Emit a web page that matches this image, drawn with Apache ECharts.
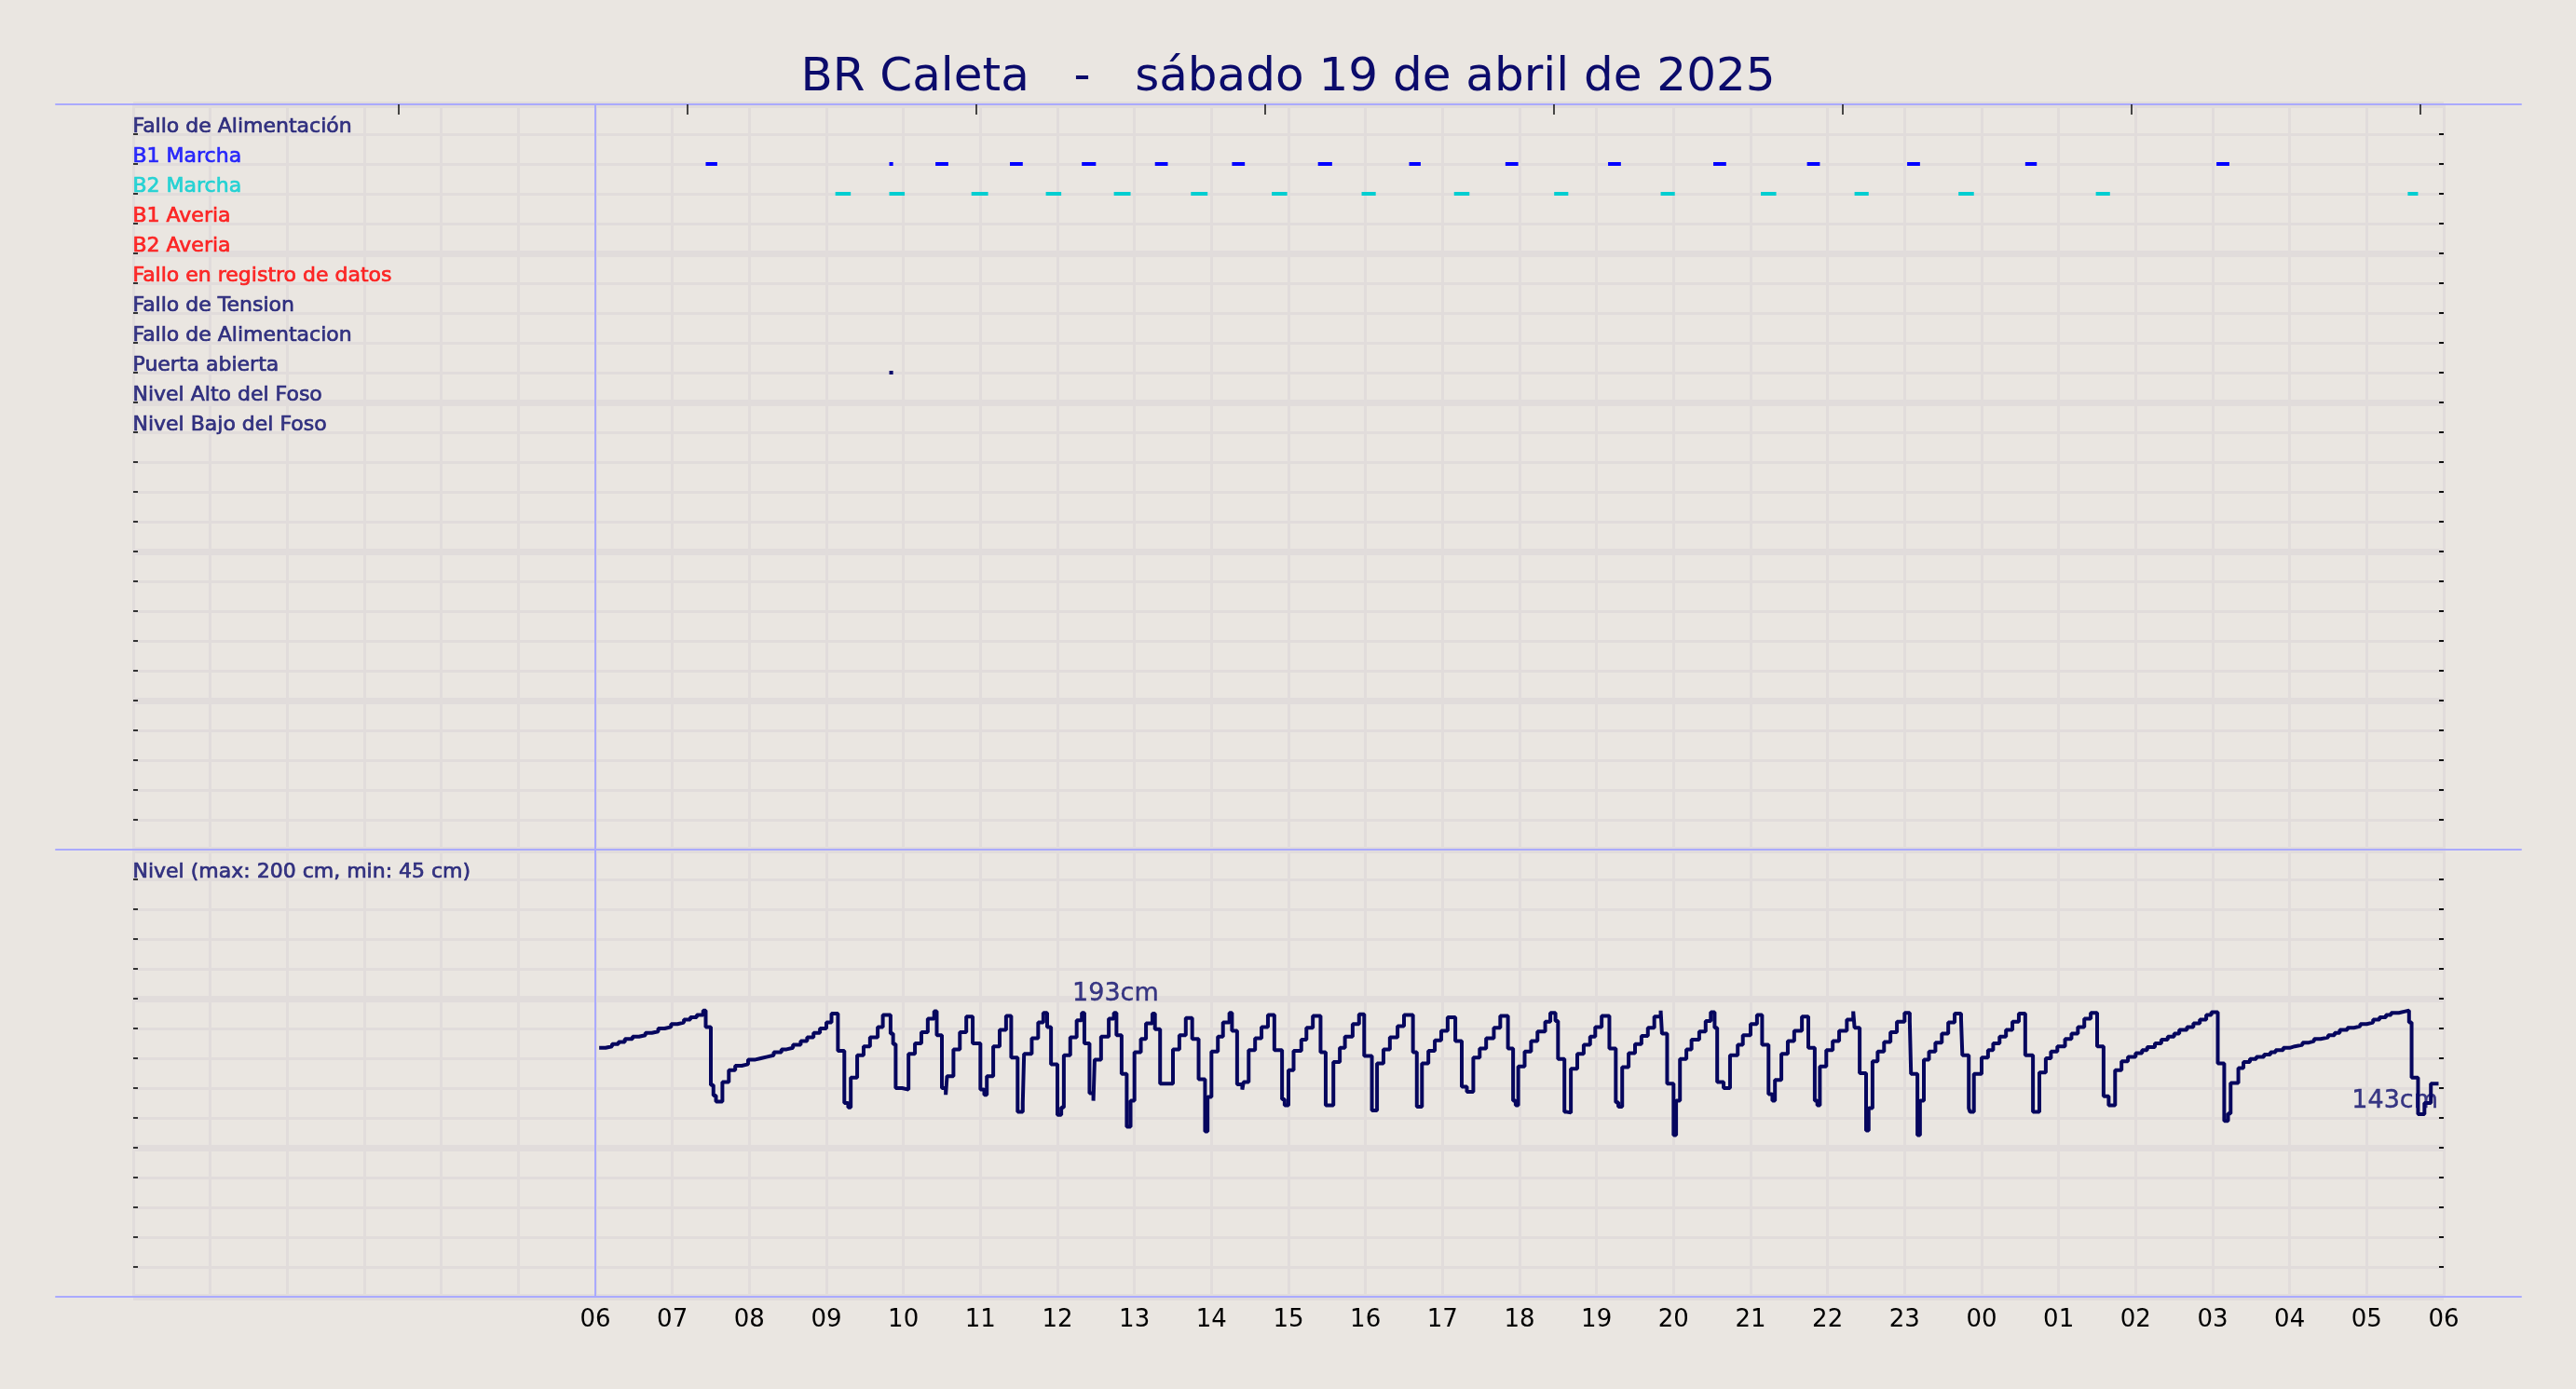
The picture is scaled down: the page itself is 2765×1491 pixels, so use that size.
<!DOCTYPE html>
<html>
<head>
<meta charset="utf-8">
<script src="https://cdn.jsdelivr.net/npm/echarts@6/dist/echarts.min.js"></script>
<style>
html,body{margin:0;padding:0;background:#eae6e1;}
#c{width:2765px;height:1491px;}
</style>
</head>
<body>
<div id="c"></div>
<script>
const titulo = 'BR Caleta   -   sábado 19 de abril de 2025';

const filas = ['Fallo de Alimentación','B1 Marcha','B2 Marcha','B1 Averia','B2 Averia',
  'Fallo en registro de datos','Fallo de Tension','Fallo de Alimentacion','Puerta abierta',
  'Nivel Alto del Foso','Nivel Bajo del Foso'];
const filaColores = ['#0b0b6b','#0000ff','#00ced1','#ff0000','#ff0000','#ff0000',
  '#0b0b6b','#0b0b6b','#0b0b6b','#0b0b6b','#0b0b6b'];

const b1Inicio = ['07:26','09:49','10:25','11:23','12:19','13:16','14:16','15:23','16:34','17:49','19:09','20:31','21:44','23:02','00:34','03:03'];
const b1Fin    = ['07:35','09:52','10:35','11:33','12:30','13:26','14:26','15:34','16:43','17:59','19:19','20:41','21:54','23:12','00:43','03:13'];
const b2Inicio = ['09:07','09:49','10:53','11:51','12:44','13:44','14:47','15:57','17:09','18:27','19:50','21:08','22:21','23:42','01:29','05:32'];
const b2Fin    = ['09:19','10:01','11:06','12:03','12:57','13:57','14:59','16:08','17:21','18:38','20:01','21:20','22:32','23:54','01:40','05:40'];
const puertaInicio = ['09:49'];
const puertaFin    = ['09:52'];

const nivelHora = [
'06:03','06:08','06:13','06:18','06:23','06:29','06:34','06:39','06:44','06:49','06:54','06:59','07:04','07:09','07:14','07:19','07:24',
'07:26','07:30','07:32','07:34','07:39','07:44','07:49','07:54','07:59','08:04','08:09','08:14','08:19','08:25','08:29','08:34','08:40','08:45','08:50','08:55','09:00','09:04',
'09:09','09:14','09:17','09:19','09:24','09:29','09:34','09:40','09:44',
'09:50','09:52','09:54','09:59','10:04','10:09','10:14','10:19','10:24',
'10:26','10:30','10:33','10:34','10:39','10:44','10:49',
'10:54','11:00','11:03','11:05','11:10','11:15','11:20',
'11:24','11:29','11:33','11:34','11:40','11:45','11:49',
'11:52','11:55','12:00','12:03','12:05','12:10','12:15','12:19',
'12:21','12:25','12:28','12:29','12:34','12:40','12:44',
'12:46','12:50','12:54','12:57','13:00','13:05','13:09','13:14',
'13:16','13:20','13:30','13:35','13:40',
'13:45','13:50','13:55','13:57','14:00','14:05','14:09','14:14',
'14:16','14:20','14:24','14:25','14:29','14:34','14:39','14:44',
'14:49','14:55','14:57','15:00','15:04','15:10','15:14','15:19',
'15:25','15:29','15:35','15:40','15:44','15:50','15:55',
'15:59','16:05','16:09','16:14','16:19','16:25','16:30',
'16:37','16:40','16:44','16:49','16:54','16:59','17:04',
'17:10','17:15','17:19','17:24','17:29','17:34','17:40','17:45',
'17:51','17:55','17:57','17:59','18:04','18:09','18:14','18:20','18:24',
'18:28','18:30','18:35','18:37','18:40','18:45','18:50','18:55','18:59','19:04',
'19:10','19:15','19:17','19:20','19:25','19:30','19:35','19:40','19:45','19:50',
'19:51','19:55','20:00','20:02','20:05','20:10','20:14','20:20','20:25','20:29',
'20:32','20:34','20:39','20:44','20:50','20:54','21:00','21:05',
'21:09','21:14','21:17','21:19','21:24','21:29','21:34','21:40',
'21:45','21:50','21:52','21:54','21:59','22:04','22:09','22:15','22:20',
'22:21','22:25','22:30','22:32','22:35','22:39','22:44','22:49','22:54','23:00',
'23:04','23:05','23:10','23:12','23:15','23:19','23:24','23:29','23:34','23:39',
'23:44','23:45','23:50','23:51','23:54','00:00','00:05','00:09','00:14','00:19','00:24','00:29',
'00:34','00:40','00:45','00:50','00:54','00:59','01:05','01:10','01:15','01:20','01:25',
'01:30','01:35','01:39','01:44','01:49','01:54','02:00','02:05','02:09','02:15','02:20','02:25','02:30','02:34','02:40','02:45','02:50','02:55','02:59',
'03:04','03:09','03:12','03:14','03:20','03:24','03:29','03:34','03:40','03:45','03:49','03:55','04:00','04:04','04:10','04:15','04:19','04:24','04:30','04:35','04:39','04:45','04:50','04:55','05:00','05:05','05:10','05:15','05:19','05:25','05:30',
'05:33','05:35','05:40','05:45','05:50','05:56'];

const nivelCm = [
167,168,169.5,171,173,174.5,175.5,177,178,180,181,183,184,186,187.5,189,192,
181,142,135,131,144,152,155,156,159,160,161,162,164,166,167,169,171.5,174,177,180,184,190,
165,130,127,147,162,168,174,181,189,
176.5,169.5,140,139,163,170,177.5,186.5,191.5,
175.5,140,135.5,148,166,177.5,188,
170,139,135.5,148,168,179,188.5,
160.5,124,130,163,173.5,184,190.5,
181,156,122,127,162,174,185.5,190.5,
170,136.5,131.5,159,174.5,186.5,190.5,
175.5,149.5,114,131.5,164,173,183.5,190,
179.5,143,166,175.5,187,
173,146,111,134,164.5,174.5,184,190.5,
178.5,142.5,139,144,165.5,173.5,181,189,
165.5,132.5,128.5,152,165,172.5,180.5,188.5,
164,128.5,157.5,167,174.5,183,189.5,
161.5,125,156.5,166,174,181.5,189,
164,127.5,156.5,165,172,178.5,187.5,
171.5,141,137.5,160.5,166.5,173.5,180.5,188.5,
166.5,131.5,128.5,154.5,164.5,171.5,178,184.5,190.5,
185,159.5,124,123.5,153,163,169,174.5,181,188.5,
166.5,130.5,127.5,154,163.5,169.5,175,180.5,188,192,
176.5,143,108.5,131.5,159.5,166,172.5,178,185,191,
180.5,144,140,162,169,175.5,183,189,
169,136,131.5,145.5,163,171.5,178.5,188,
167,131.5,128.5,154.5,165.5,171.5,178.5,186,191.5,
180.5,150,111.5,126.5,158,164.5,171,177.5,184.5,190.5,
185,149.5,108.5,131.5,159,164.5,170.5,176.5,184,190,
186.5,162,126.5,124,149.5,160.5,165.5,170,174.5,179,184.5,190,
162,124,150.5,160,164.5,168,173,176.5,181,186.5,190.5,
168,134.5,128.5,152,158,161,163.5,165.5,167.5,170,172.5,174.5,176.5,179,181,183.5,186,189,191,
156.5,118,123,143.5,153.5,157.5,159.5,161,162.5,164,165.5,167,168,169,170.5,171.5,173,174,175.5,177,179,180.5,181.5,183,184,186,187.5,189,190.5,191.5,192,
184,147,122.5,130,143,143];

const etiquetasHora = ['06','07','08','09','10','11','12','13','14','15','16','17','18','19','20','21','22','23','00','01','02','03','04','05','06'];
// top-spine ticks: first tick (hours from 00:00), spacing (hours) and count
const tickSupInicio = 3.44;
const tickSupPaso = 3.75;
const tickSupCuenta = 8;

const textoNivel = 'Nivel (max: 200 cm, min: 45 cm)';
const notaTexto = ['193cm', '143cm'];
const notaHora  = ['12:12', '05:56'];
const notaCm    = [203, 131];

// ---------------------------------------------------------------
function h(t){ const p=t.split(':').map(Number); let v=p[0]+p[1]/60; if(p[0]<6) v+=24; return v; }

const NAVY='#0b0b6b', GRIDC='#e1dcdb', SPINE='#aaaaff', FONT='DejaVu Sans';
const X0 = 143, HW = 2480/30;   // data area left edge and pixels per hour

function barra(params, api){
  const a = api.coord([api.value(0), api.value(2)]);
  const b = api.coord([api.value(1), api.value(2)]);
  return {type:'rect', shape:{x:a[0], y:a[1]-2, width:Math.max(b[0]-a[0],3), height:4},
          style:{fill: api.visual('color')}};
}
function eventos(ini, fin, fila){ return ini.map((s,i)=>[h(s), h(fin[i]), fila]); }

const innerX = (gi, labels) => ({
  gridIndex: gi, type:'value', min:0, max:30, interval:1,
  axisLine:{show:false}, axisTick:{show:false},
  axisLabel: labels ? {show:true, customValues: etiquetasHora.map((_,i)=>i+6),
     formatter: v => etiquetasHora[Math.round(v)-6], fontSize:26, color:'#000', fontFamily:FONT, margin:12}
   : {show:false},
  splitLine:{show:true, lineStyle:{color:GRIDC, width:3}}
});
const innerY = (gi, max, interval, pos, inverse, grid) => ({
  gridIndex: gi, type:'value', min:0, max:max, interval:interval, inverse:inverse, position:pos,
  axisLine:{show:false}, axisLabel:{show:false},
  axisTick:{show:true, inside:true, length:5, lineStyle:{color: pos==='left'?'#333':'#111', width:2}},
  minorTick:{show:true, splitNumber:5, length:5, lineStyle:{color: pos==='left'?'#333':'#111', width:2}},
  splitLine:{show:grid, lineStyle:{color:GRIDC, width:7}},
  minorSplitLine:{show:grid, lineStyle:{color:GRIDC, width:3}}
});
const spineX = (gi, pos) => ({
  gridIndex: gi, type:'value', min:-1, max:31, position:pos, z:10,
  axisLine:{show:true, onZero:false, lineStyle:{color:SPINE, width:2}},
  axisTick:{show:false}, axisLabel:{show:false}, splitLine:{show:false}
});

const labelSeries = (xi, yi, data, extra) => Object.assign({
  type:'scatter', xAxisIndex:xi, yAxisIndex:yi, symbolSize:1, silent:true, z:20,
  itemStyle:{color:'rgba(0,0,0,0)'}, data:data
}, extra);
const txt = (o) => Object.assign({show:true, position:[0,0], fontFamily:FONT,
  textBorderWidth:0.7, textShadowBlur:0, formatter:p=>p.name}, o);

const option = {
  backgroundColor:'#eae6e1',
  animation:false,
  title:{text:titulo, left:'center', top:54,
    textStyle:{fontSize:50, fontWeight:'normal', color:NAVY, fontFamily:FONT}},
  grid:[
    {left:X0, top:112, width:2480, height:800},
    {left:X0, top:912, width:2480, height:480},
    {left:60, top:112, width:2646, height:800},
    {left:60, top:912, width:2646, height:480},
    {left:X0 + tickSupInicio*HW, top:112, width:(tickSupCuenta-1)*tickSupPaso*HW, height:800}
  ],
  xAxis:[
    innerX(0,false),
    innerX(1,true),
    spineX(2,'top'),
    spineX(2,'bottom'),
    spineX(3,'bottom'),
    {gridIndex:4, type:'value', min:0, max:(tickSupCuenta-1)*tickSupPaso, interval:tickSupPaso, position:'top', z:11,
      axisLine:{show:false, onZero:false}, axisLabel:{show:false}, splitLine:{show:false},
      axisTick:{show:true, inside:true, length:11, lineStyle:{color:'#111', width:1.5}}}
  ],
  yAxis:[
    innerY(0,25,5,'left',true,true),
    innerY(0,25,5,'right',true,false),
    innerY(1,300,100,'left',false,true),
    innerY(1,300,100,'right',false,false),
    {gridIndex:2, type:'value', min:0, max:1, show:false},
    {gridIndex:3, type:'value', min:0, max:1, show:false},
    {gridIndex:4, type:'value', min:0, max:1, show:false}
  ],
  series:[
    labelSeries(0, 0,
      filas.map((f,i)=>({name:f, value:[0,i+1],
        label:{color:filaColores[i], textBorderColor:filaColores[i]}})),
      {label: txt({align:'left', verticalAlign:'bottom', offset:[0,4], fontSize:22}),
       markLine:{silent:true, symbol:'none', animation:false, label:{show:false},
        lineStyle:{color:SPINE, width:2, type:'solid'}, data:[{xAxis:6}]}}),
    {type:'custom', name:'B1 Marcha', xAxisIndex:0, yAxisIndex:0, renderItem:barra, z:5,
      itemStyle:{color:'#0000ff'}, encode:{x:[0,1], y:2}, data: eventos(b1Inicio,b1Fin,2)},
    {type:'custom', name:'B2 Marcha', xAxisIndex:0, yAxisIndex:0, renderItem:barra, z:5,
      itemStyle:{color:'#00ced1'}, encode:{x:[0,1], y:2}, data: eventos(b2Inicio,b2Fin,3)},
    {type:'custom', name:'Puerta abierta', xAxisIndex:0, yAxisIndex:0, renderItem:barra, z:5,
      itemStyle:{color:NAVY}, encode:{x:[0,1], y:2}, data: eventos(puertaInicio,puertaFin,9)},
    {
      type:'line', name:'Nivel', xAxisIndex:1, yAxisIndex:2, step:'end', showSymbol:false, z:5,
      lineStyle:{color:'#06065e', width:4}, itemStyle:{color:'#06065e'},
      data: nivelHora.map((t,i)=>[h(t), nivelCm[i]]),
      markLine:{silent:true, symbol:'none', animation:false, label:{show:false},
        lineStyle:{color:SPINE, width:2, type:'solid'}, data:[{xAxis:6}]}
    },
    labelSeries(1, 2, [{name:textoNivel, value:[0,280]}],
      {label: txt({align:'left', verticalAlign:'bottom', offset:[0,4], fontSize:22,
        color:NAVY, textBorderColor:NAVY})}),
    labelSeries(1, 2,
      notaTexto.map((t,i)=>({name:t, value:[h(notaHora[i]), notaCm[i]],
        label:{align: i===0?'left':'right'}})),
      {label: txt({verticalAlign:'middle', fontSize:27, color:NAVY, textBorderColor:NAVY, textBorderWidth:0.4})})
  ]
};
const chart = echarts.init(document.getElementById('c'), null, {renderer:'canvas'});
chart.setOption(option);
</script>
</body>
</html>
